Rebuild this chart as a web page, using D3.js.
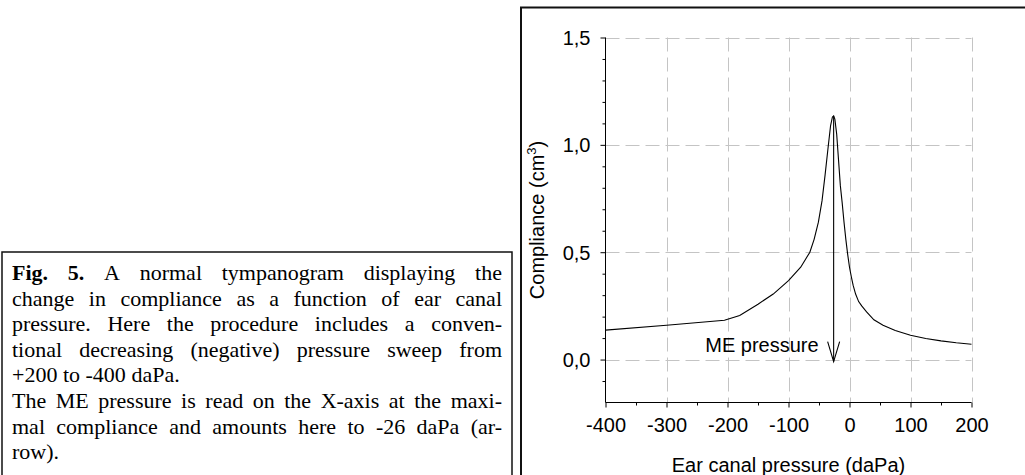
<!DOCTYPE html>
<html><head><meta charset="utf-8">
<script src="https://cdn.jsdelivr.net/npm/d3@7"></script>
<style>html,body{margin:0;padding:0;background:#fff;} svg{display:block;}</style>
</head><body>
<svg id="c" width="1025" height="475"></svg>
<script>
// ---- data ----
const pressure   = [-400, -300, -205, -180, -150, -125, -100, -80, -65, -58, -51, -45, -40, -35, -31, -28, -26, -24, -21, -18, -15, -12, -9, -6, -3, 0, 3, 6, 10, 15, 20, 28, 40, 55, 75, 100, 125, 150, 175, 200];
const compliance = [0.137, 0.160, 0.183, 0.205, 0.258, 0.305, 0.368, 0.43, 0.50, 0.56, 0.64, 0.74, 0.86, 0.99, 1.09, 1.13, 1.135, 1.12, 1.05, 0.93, 0.81, 0.73, 0.64, 0.56, 0.49, 0.43, 0.385, 0.345, 0.305, 0.27, 0.25, 0.222, 0.185, 0.16, 0.135, 0.113, 0.098, 0.087, 0.078, 0.071];
const xTickValues = [-400, -300, -200, -100, 0, 100, 200];
const xMinorTicks = [-350, -250, -150, -50, 50, 150];
const yTickValues = [0.0, 0.5, 1.0, 1.5];
const yMinorTicks = [-0.1, 0.1, 0.2, 0.3, 0.4, 0.6, 0.7, 0.8, 0.9, 1.1, 1.2, 1.3, 1.4];
const xDomain = [-400, 200];
const yDomain = [-0.2, 1.5];
const mePressure = -26;
const mePeak = 1.135;
const xLabel = "Ear canal pressure (daPa)";
const yLabelMain = "Compliance (cm";
const yLabelSup = "3";
const arrowLabel = "ME pressure";
// caption: [bold prefix, rest, justified?]
const captionLines = [
  ["Fig. 5.", "A normal tympanogram displaying the", true],
  ["", "change in compliance as a function of ear canal", true],
  ["", "pressure. Here the procedure includes a conven-", true],
  ["", "tional decreasing (negative) pressure sweep from", true],
  ["", "+200 to -400 daPa.", false],
  ["", "The ME pressure is read on the X-axis at the maxi-", true],
  ["", "mal compliance and amounts here to -26 daPa (ar-", true],
  ["", "row).", false]
];

// ---- drawing ----
const svg = d3.select("#c");
svg.append("rect").attr("width",1025).attr("height",475).attr("fill","#fff");

// frames
svg.append("rect").attr("x",521).attr("y",7.5).attr("width",700).attr("height",600)
  .attr("fill","none").attr("stroke","#111").attr("stroke-width",2);
svg.append("rect").attr("x",2).attr("y",252).attr("width",510).attr("height",400)
  .attr("fill","none").attr("stroke","#111").attr("stroke-width",1.5);

const x = d3.scaleLinear().domain(xDomain).range([605.5, 971.5]);
const y = d3.scaleLinear().domain(yDomain).range([402.5, 37.5]);
const fmtY = v => d3.format(".1f")(v).replace(".", ",");
const fmtX = v => String(v);

const chartFont = "'Liberation Sans', Arial, sans-serif";

// grid
const grid = svg.append("g").attr("stroke","#c4c4c4").attr("stroke-width",1).attr("stroke-dasharray","14,6");
grid.selectAll("line.h").data(yTickValues).join("line").attr("class","h")
  .attr("x1",x(xDomain[0])).attr("x2",x(xDomain[1])).attr("y1",d=>Math.round(y(d))+0.5).attr("y2",d=>Math.round(y(d))+0.5);
grid.selectAll("line.v").data(xTickValues.filter(d=>d>xDomain[0])).join("line").attr("class","v")
  .attr("y1",y(yDomain[1])).attr("y2",y(yDomain[0])).attr("x1",d=>Math.round(x(d))+0.5).attr("x2",d=>Math.round(x(d))+0.5);

// axes
const xAxis = d3.axisBottom(x).tickValues(xTickValues).tickFormat(fmtX).tickSize(5).tickPadding(10);
const xAxisMinor = d3.axisBottom(x).tickValues(xMinorTicks).tickFormat("").tickSize(3);
const yAxis = d3.axisLeft(y).tickValues(yTickValues).tickFormat(fmtY).tickSize(5).tickPadding(10);
const yAxisMinor = d3.axisLeft(y).tickValues(yMinorTicks).tickFormat("").tickSize(3);

function styleAxis(g){
  g.select(".domain").attr("stroke","#000");
  g.selectAll(".tick line").attr("stroke","#000");
  g.selectAll(".tick text").attr("fill","#000").style("font-family",chartFont).style("font-size","20px");
}
svg.append("g").attr("transform",`translate(0,${y(yDomain[0])})`).call(xAxisMinor).call(g=>g.select(".domain").remove()).call(styleAxis);
svg.append("g").attr("transform",`translate(${x(xDomain[0])},0)`).call(yAxisMinor).call(g=>g.select(".domain").remove()).call(styleAxis);
svg.append("g").attr("transform",`translate(0,${y(yDomain[0])})`).call(xAxis).call(g=>g.select(".domain").attr("d",`M${x(xDomain[0])},0H${x(xDomain[1])}`)).call(styleAxis);
svg.append("g").attr("transform",`translate(${x(xDomain[0])},0)`).call(yAxis).call(g=>g.select(".domain").attr("d",`M0,${y(yDomain[1])}V${y(yDomain[0])}`)).call(styleAxis)
  .selectAll(".tick text").attr("dy","0.35em");

// curve
const pts = pressure.map((p,i)=>[p, compliance[i]]);
svg.append("path").datum(pts)
  .attr("fill","none").attr("stroke","#000").attr("stroke-width",1.1)
  .attr("d", d3.line().x(d=>x(d[0])).y(d=>y(d[1])).curve(d3.curveLinear));

// arrow
const ax = x(mePressure), aTop = y(mePeak), aBot = y(0) + 2;
svg.append("line").attr("x1",ax).attr("x2",ax).attr("y1",aTop).attr("y2",aBot).attr("stroke","#000").attr("stroke-width",1.1);
svg.append("path").attr("d",`M${ax-6},${aBot-20}L${ax},${aBot}L${ax+6},${aBot-20}`)
  .attr("fill","none").attr("stroke","#000").attr("stroke-width",1.1);
svg.append("text").attr("x",ax-15).attr("y",y(0)-8).attr("text-anchor","end")
  .style("font-family",chartFont).style("font-size","20px").text(arrowLabel);

// axis titles
svg.append("text").attr("x",(x(xDomain[0])+x(xDomain[1]))/2).attr("y",472).attr("text-anchor","middle")
  .style("font-family",chartFont).style("font-size","20px").text(xLabel);
const yl = svg.append("text").attr("transform",`translate(544,${(y(yDomain[0])+y(yDomain[1]))/2}) rotate(-90)`)
  .attr("text-anchor","middle").style("font-family",chartFont).style("font-size","20px");
yl.append("tspan").text(yLabelMain);
yl.append("tspan").attr("dy",-8).style("font-size","13px").text(yLabelSup);
yl.append("tspan").attr("dy",8).text(")");

// caption (justified)
const capFont = "'Liberation Serif', 'Times New Roman', serif";
const capSize = 22;
const capLeft = 12, capRight = 502, capBase0 = 280, capLead = 25.6;
captionLines.forEach((ln, i) => {
  const t = svg.append("text").attr("y", capBase0 + i*capLead)
    .style("font-family",capFont).style("font-size",capSize+"px").attr("fill","#000");
  const words = [];
  if (ln[0]) ln[0].split(" ").forEach(w=>words.push({w, b:true}));
  ln[1].split(" ").forEach(w=>words.push({w, b:false}));
  const spans = words.map(o => t.append("tspan").attr("x",0).style("font-weight",o.b?"bold":"normal").text(o.w));
  const widths = spans.map(s => s.node().getComputedTextLength());
  const total = d3.sum(widths);
  const gap = ln[2] ? (capRight - capLeft - total)/(words.length-1) : capSize*0.25;
  let cx = capLeft;
  spans.forEach((s,k)=>{ s.attr("x",cx); cx += widths[k] + gap; });
});
</script>
</body></html>
